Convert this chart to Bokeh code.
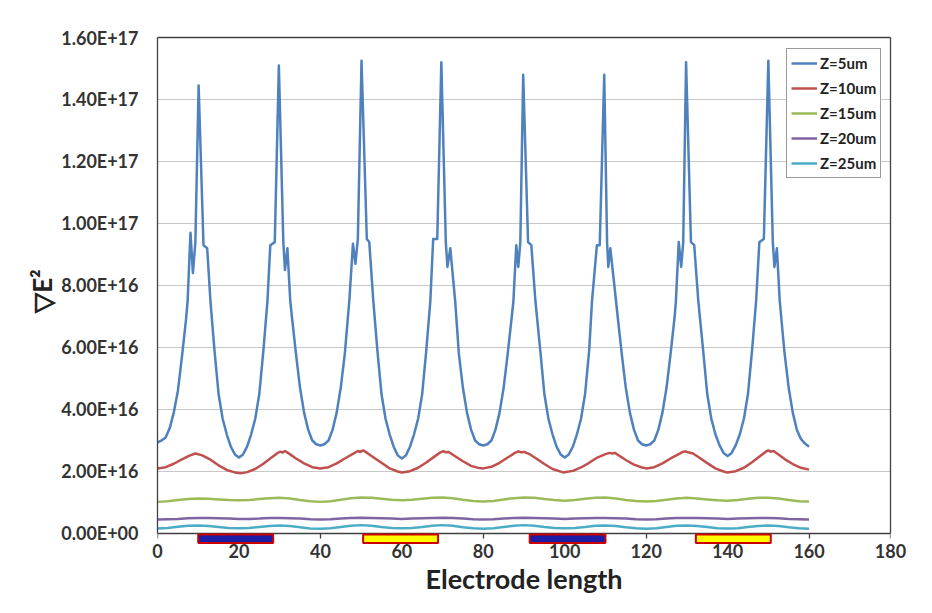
from bokeh.plotting import figure
from bokeh.models import Range1d, FixedTicker, Legend, LegendItem, LinearAxis
from bokeh.embed import file_html
from bokeh.resources import INLINE

UNIT = 1e16  # all series values below are in units of 1e16

# ---- Z = 5 um (detailed trace) ----
x_z5 = [0, 1, 2, 3, 4, 5, 6, 7, 7.4, 8.1, 8.7, 9.3, 10.1, 11.3, 12.2, 13.0,
        14, 15, 16, 17, 18, 19, 20, 21, 22, 23, 24, 25, 26, 27.0,
        27.7, 28.8, 29.8, 30.9, 31.3, 31.9, 32.6,
        33, 34, 35, 36, 37, 38, 39, 40, 41, 42, 43, 44, 45, 46, 47.1,
        48.0, 48.6, 49.2, 50.1, 51.4, 52.0, 53.0,
        54, 55, 56, 57, 58, 59, 60, 61, 62, 63, 64, 65, 66, 67.0,
        67.7, 68.7, 69.7, 70.8, 71.2, 71.9, 73.1,
        74, 75, 76, 77, 78, 79, 80, 81, 82, 83, 84, 85, 86, 87.0, 87.4,
        88.1, 88.6, 89.1, 89.8, 91.0, 91.8, 92.8,
        94, 95, 96, 97, 98, 99, 100, 101, 102, 103, 104, 105, 106, 106.7,
        107.9, 108.6, 109.7, 110.4, 110.7, 111.2, 112.6,
        113, 114, 115, 116, 117, 118, 119, 120, 121, 122, 123, 124, 125, 126, 127.0, 127.3,
        128.0, 128.6, 129.1, 129.8, 131.0, 131.8, 132.8,
        134, 135, 136, 137, 138, 139, 140, 141, 142, 143, 144, 145, 146, 147.0,
        147.8, 148.9, 150.0, 151.1, 151.5, 152.1, 152.8,
        153.5, 154, 155, 156, 157, 158, 159, 160]
y_z5 = [2.94, 3.0, 3.1, 3.4, 3.9, 4.6, 5.7, 6.9, 7.5, 9.7, 8.4, 9.4, 14.45, 9.3, 9.2, 7.5,
        5.9, 4.5, 3.7, 3.2, 2.8, 2.55, 2.45, 2.55, 2.8, 3.2, 3.7, 4.5, 5.9, 7.5,
        9.3, 9.4, 15.1, 9.4, 8.5, 9.2, 7.5,
        7.0, 5.8, 4.7, 3.9, 3.35, 3.0, 2.88, 2.84, 2.88, 3.0, 3.35, 3.9, 4.7, 5.8, 7.5,
        9.35, 8.7, 9.5, 15.25, 9.5, 9.4, 7.5,
        5.9, 4.5, 3.7, 3.2, 2.8, 2.52, 2.42, 2.52, 2.8, 3.2, 3.7, 4.5, 5.9, 7.5,
        9.5, 9.5, 15.2, 9.4, 8.6, 9.2, 7.5,
        5.8, 4.7, 3.9, 3.35, 3.0, 2.88, 2.84, 2.88, 3.0, 3.35, 3.9, 4.7, 5.8, 7.0, 7.5,
        9.3, 8.6, 9.4, 14.8, 9.4, 9.3, 7.5,
        5.9, 4.5, 3.7, 3.2, 2.8, 2.55, 2.45, 2.55, 2.8, 3.2, 3.7, 4.5, 5.9, 7.5,
        9.3, 9.3, 14.8, 9.4, 8.6, 9.2, 7.5,
        7.0, 5.8, 4.7, 3.9, 3.35, 3.0, 2.88, 2.84, 2.88, 3.0, 3.35, 3.9, 4.7, 5.8, 7.0, 7.5,
        9.4, 8.6, 9.4, 15.2, 9.4, 9.3, 7.5,
        5.9, 4.5, 3.7, 3.2, 2.85, 2.6, 2.5, 2.6, 2.85, 3.2, 3.7, 4.5, 5.9, 7.5,
        9.4, 9.5, 15.25, 9.4, 8.6, 9.2, 7.5,
        6.5, 5.8, 4.7, 3.9, 3.35, 3.05, 2.9, 2.8]

# ---- Z = 10 um ----
x_z10 = [0, 2, 4, 6, 8, 9.3, 11, 13, 15, 17, 19, 20.4, 22, 24, 26, 28, 29.5, 30.2, 30.7, 31.3,
         32.5, 34, 36, 38, 40, 42, 44, 46, 48, 49.2, 49.8, 50.5, 51.5, 53, 55, 57, 59, 60,
         62, 64, 66, 68, 69.5, 70.2, 70.8, 71.5, 73, 75, 77, 79, 80, 82, 84, 86, 87.8, 88.6,
         89.3, 90, 91.5, 93, 95, 97, 99.6, 102, 104, 106, 108, 110, 111, 111.7, 112.3, 113.5,
         115, 117, 119, 120, 122, 124, 126, 128, 129, 129.6, 130.3, 131.5, 133, 135, 137, 139,
         139.9, 142, 144, 146, 148, 149.3, 150, 150.6, 151.3, 152.5, 154, 156, 158, 160]
y_z10 = [2.10, 2.14, 2.25, 2.39, 2.52, 2.58, 2.52, 2.38, 2.20, 2.05, 1.97, 1.94, 1.98, 2.08, 2.25,
         2.45, 2.60, 2.64, 2.61, 2.66,
         2.56, 2.42, 2.26, 2.14, 2.10, 2.14, 2.26, 2.42, 2.57, 2.66, 2.63, 2.68, 2.60, 2.46, 2.28,
         2.10, 2.00, 1.97,
         2.01, 2.12, 2.29, 2.48, 2.62, 2.66, 2.62, 2.63, 2.50, 2.33, 2.18, 2.11, 2.10, 2.15, 2.28,
         2.45, 2.60, 2.65,
         2.62, 2.63, 2.55, 2.42, 2.24, 2.08, 1.97, 2.02, 2.13, 2.28, 2.45, 2.56, 2.60, 2.58, 2.60,
         2.50,
         2.37, 2.22, 2.13, 2.10, 2.14, 2.26, 2.42, 2.56, 2.63, 2.65, 2.62, 2.58, 2.45, 2.27, 2.10,
         2.00,
         1.97, 2.01, 2.12, 2.30, 2.50, 2.63, 2.68, 2.64, 2.66, 2.55, 2.40, 2.24, 2.12, 2.06]

# ---- Z = 15, 20, 25 um (shared sampling) ----
x_smooth = [0, 2.5, 5, 7.5, 10, 12.5, 15, 17.5, 20, 22.5, 25, 27.5, 30, 32.5, 35, 37.5,
            40, 42.5, 45, 47.5, 50, 52.5, 55, 57.5, 60, 62.5, 65, 67.5, 70, 72.5, 75, 77.5,
            80, 82.5, 85, 87.5, 90, 92.5, 95, 97.5, 100, 102.5, 105, 107.5, 110, 112.5, 115, 117.5,
            120, 122.5, 125, 127.5, 130, 132.5, 135, 137.5, 140, 142.5, 145, 147.5, 150, 152.5, 155, 157.5,
            160]
y_z15 = [1.02, 1.04, 1.08, 1.11, 1.13, 1.12, 1.10, 1.08, 1.07, 1.08, 1.11, 1.14, 1.15, 1.13, 1.08, 1.04,
         1.02, 1.04, 1.09, 1.14, 1.16, 1.15, 1.12, 1.09, 1.07, 1.09, 1.12, 1.15, 1.16, 1.14, 1.09, 1.05,
         1.03, 1.05, 1.10, 1.14, 1.16, 1.15, 1.11, 1.08, 1.06, 1.08, 1.12, 1.15, 1.16, 1.13, 1.08, 1.05,
         1.03, 1.05, 1.09, 1.13, 1.15, 1.13, 1.10, 1.07, 1.06, 1.08, 1.12, 1.15, 1.15, 1.13, 1.08, 1.04,
         1.03]
y_z20 = [0.45, 0.46, 0.47, 0.49, 0.50, 0.50, 0.49, 0.48, 0.47, 0.47, 0.48, 0.50, 0.50, 0.49, 0.48, 0.46,
         0.45, 0.46, 0.48, 0.50, 0.51, 0.50, 0.49, 0.48, 0.47, 0.48, 0.49, 0.50, 0.51, 0.50, 0.48, 0.46,
         0.45, 0.46, 0.48, 0.50, 0.51, 0.50, 0.49, 0.48, 0.47, 0.48, 0.49, 0.50, 0.50, 0.49, 0.48, 0.46,
         0.45, 0.46, 0.48, 0.50, 0.50, 0.50, 0.49, 0.48, 0.47, 0.48, 0.49, 0.50, 0.50, 0.49, 0.47, 0.46,
         0.45]
y_z25 = [0.16, 0.18, 0.22, 0.25, 0.26, 0.24, 0.21, 0.18, 0.17, 0.18, 0.21, 0.24, 0.26, 0.24, 0.20, 0.16,
         0.15, 0.17, 0.21, 0.25, 0.27, 0.25, 0.21, 0.18, 0.17, 0.18, 0.21, 0.25, 0.27, 0.25, 0.20, 0.17,
         0.15, 0.17, 0.21, 0.25, 0.27, 0.25, 0.21, 0.18, 0.17, 0.18, 0.21, 0.25, 0.26, 0.24, 0.20, 0.17,
         0.15, 0.17, 0.21, 0.25, 0.26, 0.24, 0.21, 0.17, 0.16, 0.17, 0.21, 0.24, 0.26, 0.24, 0.20, 0.17,
         0.15]

series_names = ["Z=5um", "Z=10um", "Z=15um", "Z=20um", "Z=25um"]
series_x = [x_z5, x_z10, x_smooth, x_smooth, x_smooth]
series_y = [y_z5, y_z10, y_z15, y_z20, y_z25]
series_colors = ["#4f81bd", "#c0504d", "#9bbb59", "#8064a2", "#4bacc6"]

# ---- electrodes (drawn just under the x axis) ----
electrode_start = [10, 50.5, 91.4, 132.2]
electrode_end = [28.4, 68.9, 110, 150.6]
electrode_fill = ["#1c1ca6", "#ffff00", "#1c1ca6", "#ffff00"]

# ---- axes ----
x_ticks = [0, 20, 40, 60, 80, 100, 120, 140, 160, 180]
y_tick_units = [0, 2, 4, 6, 8, 10, 12, 14, 16]
y_tick_labels = ["0.00E+00", "2.00E+16", "4.00E+16", "6.00E+16", "8.00E+16",
                 "1.00E+17", "1.20E+17", "1.40E+17", "1.60E+17"]

FONT = "Lato"
DARK = "#404040"

p = figure(width=924, height=612, output_backend="svg", toolbar_location=None,
           x_range=Range1d(0, 180), y_range=Range1d(-0.355 * UNIT, 16 * UNIT),
           min_border=0, min_border_left=157, min_border_right=34,
           min_border_top=37, min_border_bottom=68)
p.background_fill_color = "white"
p.border_fill_color = "white"
p.outline_line_color = None

renderers = []
for xs, ys, c in zip(series_x, series_y, series_colors):
    r = p.line(xs, [v * UNIT for v in ys], line_color=c, line_width=2.5, line_join="round")
    renderers.append(r)

p.quad(left=electrode_start, right=electrode_end, bottom=-0.31 * UNIT, top=-0.035 * UNIT,
       fill_color=electrode_fill, line_color="#cc0000", line_width=2, level="overlay")

# x axis labels (at frame bottom, no line / ticks)
xa = p.xaxis[0]
xa.ticker = FixedTicker(ticks=x_ticks)
xa.axis_label = "Electrode length"
xa.axis_label_text_font = FONT
xa.axis_label_text_font_style = "bold"
xa.axis_label_text_font_size = "27px"
xa.axis_label_text_color = "#222222"
xa.axis_label_standoff = 1
xa.major_label_text_font = FONT
xa.major_label_text_font_style = "bold"
xa.major_label_text_font_size = "18px"
xa.major_label_text_color = "#333333"
xa.major_label_standoff = -1
xa.major_tick_out = 0
xa.major_tick_in = 0
xa.minor_tick_out = 0
xa.minor_tick_in = 0
xa.axis_line_color = None

# x axis line and ticks drawn at y = 0 (its labels are invisible)
x_line_axis = LinearAxis(fixed_location=0, ticker=FixedTicker(ticks=x_ticks),
                         major_label_text_font_size="1px", major_label_text_color=None,
                         major_label_standoff=0,
                         major_tick_out=5, major_tick_in=0, minor_tick_out=0, minor_tick_in=0,
                         axis_line_color=DARK, axis_line_width=1.3,
                         major_tick_line_color=DARK, major_tick_line_width=1.3)
p.add_layout(x_line_axis, "below")

# y axis
ya = p.yaxis[0]
ya.bounds = (0, 16 * UNIT)
ya.ticker = FixedTicker(ticks=[v * UNIT for v in y_tick_units])
ya.major_label_overrides = {v * UNIT: lab for v, lab in zip(y_tick_units, y_tick_labels)}
ya.axis_label = "\u25bdE\u00b2"
ya.axis_label_text_font = FONT
ya.axis_label_text_font_style = "bold"
ya.axis_label_text_font_size = "26px"
ya.axis_label_text_color = "#222222"
ya.axis_label_standoff = 0
ya.major_label_text_font = FONT
ya.major_label_text_font_style = "bold"
ya.major_label_text_font_size = "18px"
ya.major_label_text_color = "#333333"
ya.major_label_standoff = 19
ya.major_tick_out = 0
ya.major_tick_in = 0
ya.minor_tick_out = 0
ya.minor_tick_in = 0
ya.axis_line_color = DARK
ya.axis_line_width = 1.3

# frame border on top and right
top_axis = LinearAxis(ticker=FixedTicker(ticks=[]), major_label_text_font_size="1px",
                      major_label_text_color=None,
                      major_tick_out=0, minor_tick_out=0, axis_line_color=DARK, axis_line_width=1.3)
right_axis = LinearAxis(ticker=FixedTicker(ticks=[]), major_label_text_font_size="1px",
                        major_label_text_color=None,
                        major_tick_out=0, minor_tick_out=0, axis_line_color=DARK, axis_line_width=1.3,
                        bounds=(0, 16 * UNIT))
p.add_layout(top_axis, "above")
p.add_layout(right_axis, "right")

p.xgrid.grid_line_color = None
p.ygrid.grid_line_color = "#c8c8c8"
p.ygrid.grid_line_width = 1

legend = Legend(items=[LegendItem(label=n, renderers=[r]) for n, r in zip(series_names, renderers)],
                location=(629, 366), orientation="vertical",
                label_text_font=FONT, label_text_font_style="bold", label_text_font_size="15px",
                label_text_color="#222222",
                glyph_width=26, glyph_height=20, label_height=20, label_width=56,
                label_standoff=3, spacing=5, padding=4, margin=0,
                border_line_color="#333333", border_line_width=1.3,
                background_fill_color="white", background_fill_alpha=1.0)
p.add_layout(legend)

open("out.html", "w").write(file_html(p, INLINE))
